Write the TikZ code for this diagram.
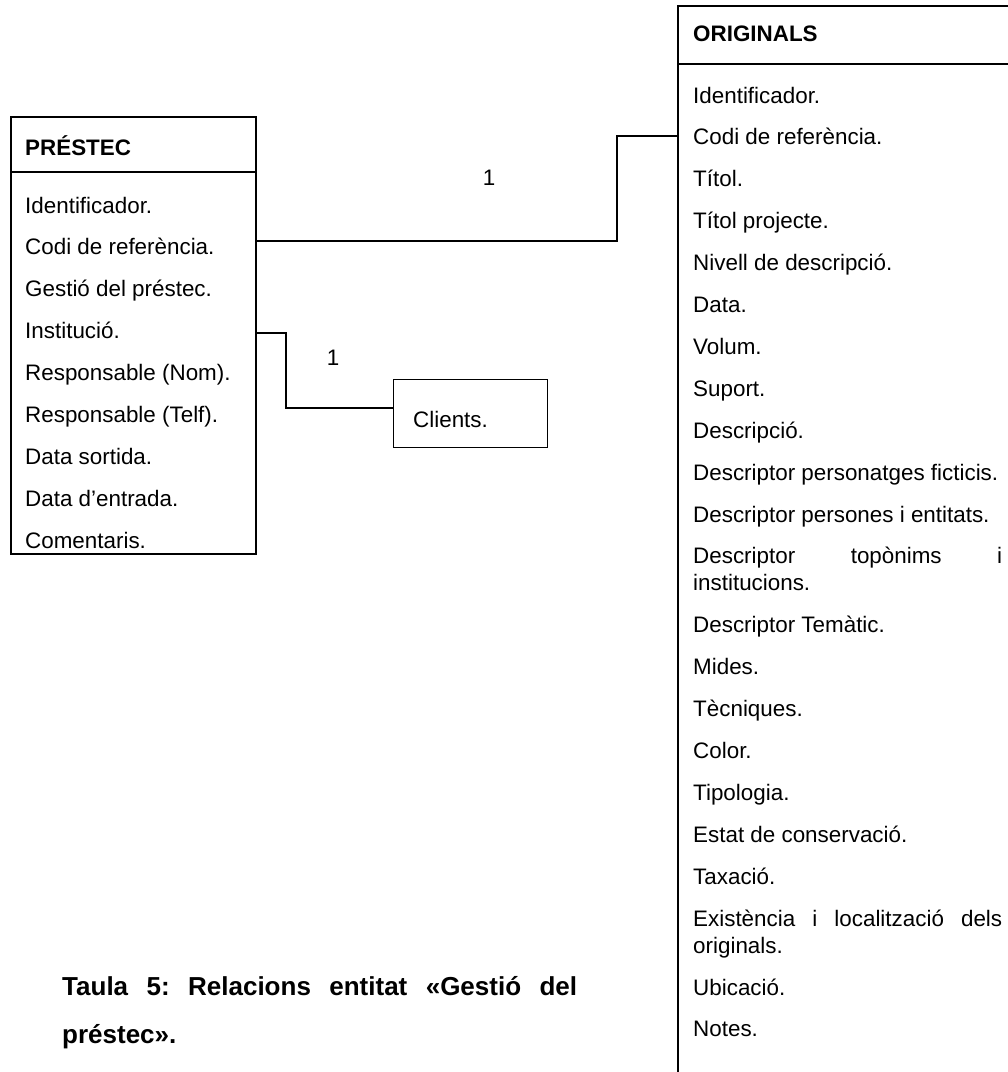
\documentclass[tikz,border=0pt]{standalone}
\usepackage{fontspec}
\setmainfont{Liberation Sans}
\begin{document}
\begin{tikzpicture}[x=1pt,y=-1pt,
  entbox/.style={draw, line width=2pt, rectangle, inner sep=0pt},
  smallbox/.style={draw, line width=1.3pt, rectangle, inner sep=0pt},
  link/.style={line width=1.6pt},
  attr/.style={anchor=base west, inner sep=0pt, font=\fontsize{22.4}{26}\selectfont},
  head/.style={anchor=base west, inner sep=0pt, font=\fontsize{22.4}{26}\selectfont\bfseries},
  card/.style={anchor=base, inner sep=0pt, font=\fontsize{22.4}{26}\selectfont},
  captext/.style={anchor=base west, inner sep=0pt, font=\fontsize{26}{50}\selectfont\bfseries}]

\useasboundingbox (0,0) rectangle (1008,1072);
\fill[white] (0,0) rectangle (1008,1072);
\clip (0,0) rectangle (1008,1072);

% ---- Entity PRÉSTEC ----
\node[entbox, minimum width=245pt, minimum height=437pt, anchor=north west] (prestec) at (10,116) {};
\draw[line width=2pt] (prestec.west |- 0,172) -- (prestec.east |- 0,172);
\node[head] (prestec-title) at (25,155) {PRÉSTEC};
\node[attr] (p1) at (25,213.0) {Identificador.};
\node[attr] (p2) at (25,254.9) {Codi de referència.};
\node[attr] (p3) at (25,296.8) {Gestió del préstec.};
\node[attr] (p4) at (25,338.7) {Institució.};
\node[attr] (p5) at (25,380.6) {Responsable (Nom).};
\node[attr] (p6) at (25,422.5) {Responsable (Telf).};
\node[attr] (p7) at (25,464.4) {Data sortida.};
\node[attr] (p8) at (25,506.3) {Data d’entrada.};
\node[attr] (p9) at (25,548.2) {Comentaris.};

% ---- Entity ORIGINALS (runs past the right and bottom edges) ----
\node[entbox, minimum width=400pt, minimum height=1100pt, anchor=north west] (originals) at (677,5) {};
\draw[line width=2pt] (originals.west |- 0,64) -- (originals.east |- 0,64);
\node[head] (orig-title) at (693,41) {ORIGINALS};
\node[attr] (o1)  at (693,103.0) {Identificador.};
\node[attr] (o2)  at (693,144.9) {Codi de referència.};
\node[attr] (o3)  at (693,186.8) {Títol.};
\node[attr] (o4)  at (693,228.7) {Títol projecte.};
\node[attr] (o5)  at (693,270.6) {Nivell de descripció.};
\node[attr] (o6)  at (693,312.5) {Data.};
\node[attr] (o7)  at (693,354.4) {Volum.};
\node[attr] (o8)  at (693,396.3) {Suport.};
\node[attr] (o9)  at (693,438.2) {Descripció.};
\node[attr] (o10) at (693,480.1) {Descriptor personatges ficticis.};
\node[attr] (o11) at (693,522.0) {Descriptor persones i entitats.};
\node[attr] (o12) at (693,563.9) {\makebox[309pt][l]{Descriptor\hfill topònims\hfill i}};
\node[attr] (o12b) at (693,590.9) {institucions.};
\node[attr] (o13) at (693,632.8) {Descriptor Temàtic.};
\node[attr] (o14) at (693,674.7) {Mides.};
\node[attr] (o15) at (693,716.6) {Tècniques.};
\node[attr] (o16) at (693,758.5) {Color.};
\node[attr] (o17) at (693,800.4) {Tipologia.};
\node[attr] (o18) at (693,842.3) {Estat de conservació.};
\node[attr] (o19) at (693,884.2) {Taxació.};
\node[attr] (o20) at (693,926.1) {\makebox[309pt][l]{Existència\hfill i\hfill localització\hfill dels}};
\node[attr] (o20b) at (693,953.1) {originals.};
\node[attr] (o21) at (693,995.0) {Ubicació.};
\node[attr] (o22) at (693,1036.9) {Notes.};

% ---- Entity Clients ----
\node[smallbox, minimum width=154pt, minimum height=68pt, anchor=north west] (clients) at (393,379) {};
\node[attr] (clients-label) at (413,427) {Clients.};

% ---- Relationships ----
\draw[link] (prestec.east |- 0,241) -| (617,136) -- (originals.west |- 0,136);
\node[card] (card1) at (489,185) {1};
\draw[link] (prestec.east |- 0,333) -| (286,408) -- (clients.west |- 0,408);
\node[card] (card2) at (333,365) {1};

% ---- Caption ----
\node[captext] (cap1) at (62,995) {\makebox[515pt][l]{Taula\hfill 5:\hfill Relacions\hfill entitat\hfill «Gestió\hfill del}};
\node[captext] (cap2) at (62,1043) {préstec».};
\end{tikzpicture}
\end{document}
